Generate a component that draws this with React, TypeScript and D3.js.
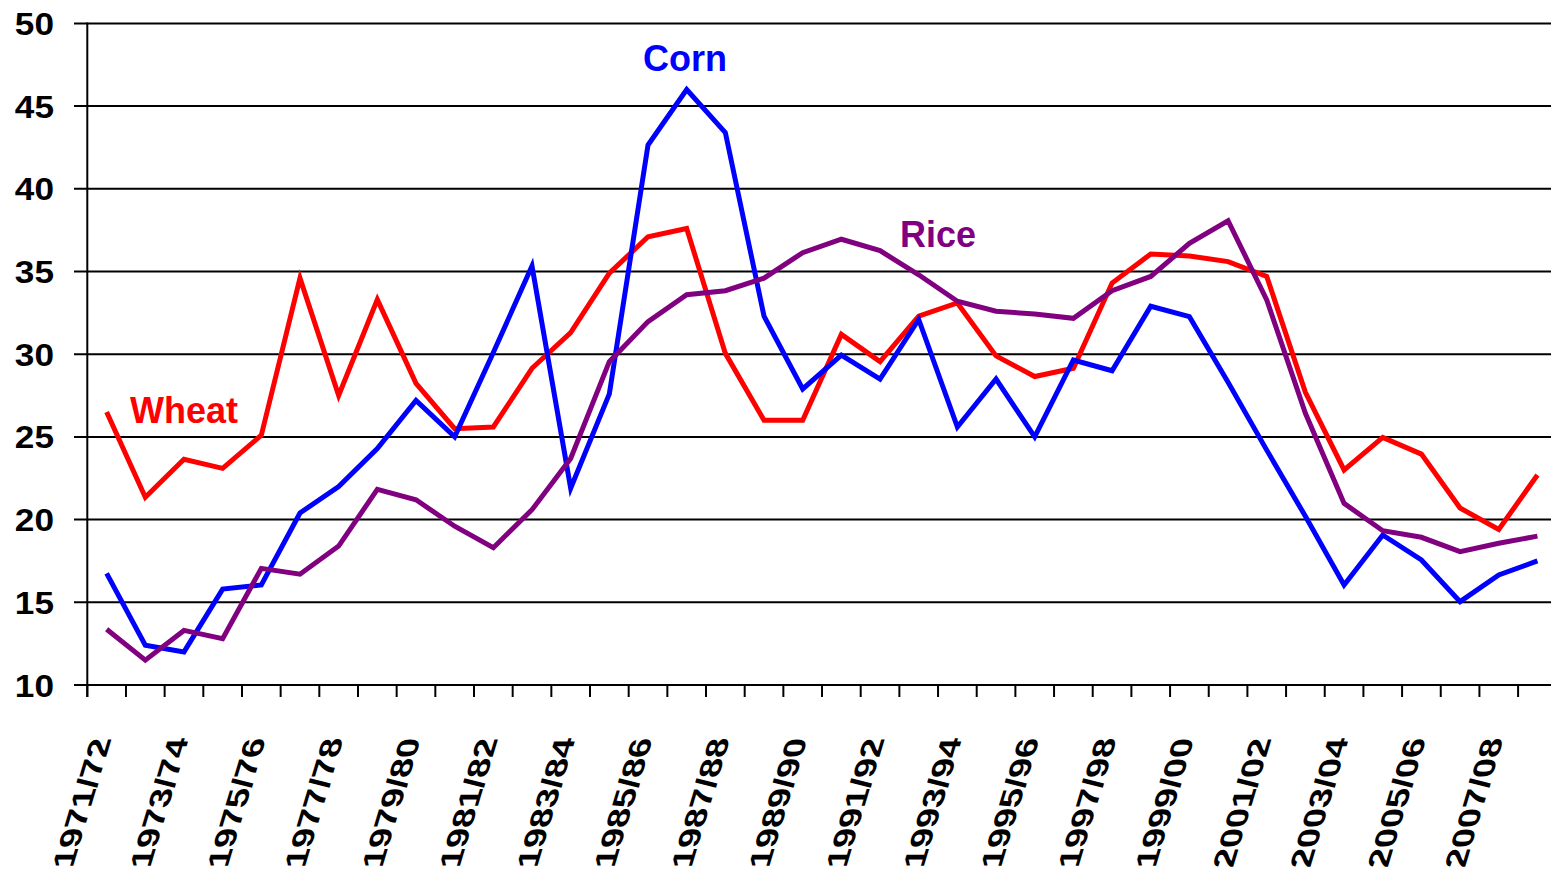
import React from "react";
import * as d3 from "d3";

const seasons = [
  "1971/72","1972/73","1973/74","1974/75","1975/76","1976/77","1977/78","1978/79","1979/80","1980/81",
  "1981/82","1982/83","1983/84","1984/85","1985/86","1986/87","1987/88","1988/89","1989/90","1990/91",
  "1991/92","1992/93","1993/94","1994/95","1995/96","1996/97","1997/98","1998/99","1999/00","2000/01",
  "2001/02","2002/03","2003/04","2004/05","2005/06","2006/07","2007/08","2008/09",
];

const wheat = [
  26.5, 21.35, 23.65, 23.1, 25.1, 34.6, 27.5, 33.3, 28.24, 25.5,
  25.6, 29.15, 31.3, 34.9, 37.1, 37.6, 30.05, 26.0, 26.0, 31.2,
  29.55, 32.3, 33.1, 29.9, 28.65, 29.15, 34.3, 36.06, 35.94, 35.6,
  34.7, 27.7, 23.0, 24.97, 23.96, 20.7, 19.4, 22.7,
];

const corn = [
  16.75, 12.4, 12.0, 15.8, 16.05, 20.4, 22.0, 24.3, 27.2, 25.0,
  30.1, 35.33, 21.9, 27.6, 42.65, 46.0, 43.4, 32.3, 27.9, 29.95,
  28.5, 32.1, 25.6, 28.5, 25.0, 29.65, 29.0, 32.9, 32.27, 28.3,
  24.2, 20.2, 16.05, 19.07, 17.56, 15.04, 16.65, 17.5,
];

const rice = [
  13.37, 11.5, 13.3, 12.8, 17.05, 16.7, 18.4, 21.83, 21.2, 19.6,
  18.3, 20.6, 23.7, 29.55, 31.97, 33.6, 33.84, 34.6, 36.14, 36.95,
  36.26, 34.8, 33.2, 32.6, 32.43, 32.17, 33.84, 34.7, 36.7, 38.07,
  33.28, 26.43, 20.98, 19.33, 18.93, 18.06, 18.57, 19.0,
];

const yTicks = [10, 15, 20, 25, 30, 35, 40, 45, 50];

const seriesList = [
  { name: "Wheat", values: wheat, color: "#FF0000" },
  { name: "Corn", values: corn, color: "#0000FF" },
  { name: "Rice", values: rice, color: "#800080" },
];

const W = 1551;
const H = 879;
const FONT = "'Liberation Sans', Arial, Helvetica, sans-serif";

export default function App() {
  const x = d3.scaleBand<string>().domain(seasons).range([87.3, 87.3 + 38.67 * seasons.length]).padding(0);
  const y = d3.scaleLinear().domain([10, 50]).range([685, 23.4]);
  const cx = (i: number) => (x(seasons[i]) as number) + x.bandwidth() / 2;

  const line = d3
    .line<number>()
    .x((_, i) => cx(i))
    .y((d) => y(d));

  const boundaries = d3.range(seasons.length + 1).map((i) => 87.3 + i * x.bandwidth());

  // label transform parameters (sheared vertical text)
  const fs = 30;
  const s = 1.2;
  const k = 0.3;

  return (
    <svg
      width={W}
      height={H}
      style={{ position: "absolute", left: 0, top: 0, background: "#fff" }}
      fontFamily={FONT}
    >
      {yTicks.map((t) => (
        <line key={"g" + t} x1={74} x2={W} y1={y(t)} y2={y(t)} stroke="#000" strokeWidth={2} />
      ))}
      <line x1={87.3} x2={87.3} y1={y(50) - 1} y2={697} stroke="#000" strokeWidth={2} />
      {boundaries.map((bx, i) => (
        <line key={"t" + i} x1={bx} x2={bx} y1={685} y2={697} stroke="#000" strokeWidth={2} />
      ))}
      {yTicks.map((t) => (
        <text
          key={"yl" + t}
          transform={`translate(54,${y(t) + 11.5}) scale(1.1,1)`}
          textAnchor="end"
          fontSize={32}
          fontWeight="bold"
          fill="#000"
        >
          {t}
        </text>
      ))}
      {seasons.map((sName, i) =>
        i % 2 === 0 ? (
          <text
            key={"xl" + i}
            transform={`matrix(${k * s},${-s},1,0,${cx(i) + 5},738)`}
            textAnchor="end"
            fontSize={fs}
            fontWeight="bold"
            fill="#000"
          >
            {sName}
          </text>
        ) : null
      )}
      {seriesList.map((sr) => (
        <path
          key={sr.name}
          d={line(sr.values) || ""}
          fill="none"
          stroke={sr.color}
          strokeWidth={5}
          strokeLinejoin="miter"
        />
      ))}
      <text x={130} y={423} fontSize={36} fontWeight="bold" fill="#FF0000">Wheat</text>
      <text x={643} y={71} fontSize={36} fontWeight="bold" fill="#0000FF">Corn</text>
      <text x={900} y={247} fontSize={36} fontWeight="bold" fill="#800080">Rice</text>
    </svg>
  );
}
